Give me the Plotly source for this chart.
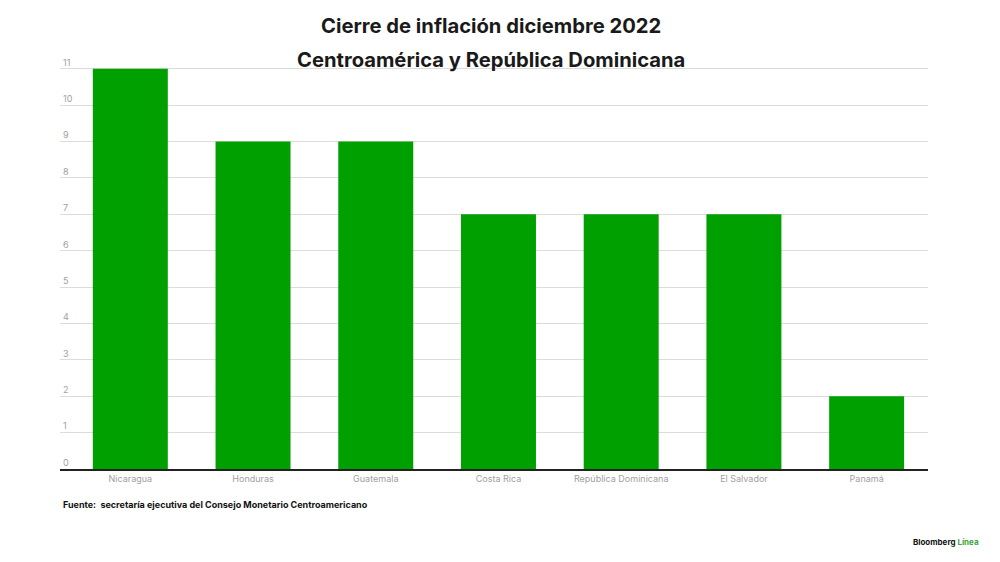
import plotly.graph_objects as go

paises = ['Nicaragua', 'Honduras', 'Guatemala', 'Costa Rica',
          'República Dominicana', 'El Salvador', 'Panamá']
inflacion = [11, 9, 9, 7, 7, 7, 2]
y_ticks = list(range(0, 12))

fig = go.Figure()
fig.add_trace(go.Bar(x=paises, y=inflacion, marker_color='#00a000',
                     marker_line_width=0, hoverinfo='x+y'))

fig.update_layout(
    width=1000, height=562,
    margin=dict(l=60, r=72, t=56, b=93),
    plot_bgcolor='white', paper_bgcolor='white',
    font=dict(family='Inter, Roboto, sans-serif'),
    bargap=0.389,
    showlegend=False,
)
# a little padding before the first bar, as in the original
fig.update_xaxes(range=[-0.573, 6.5], showline=True, linecolor='#222', linewidth=1.5,
                 tickfont=dict(size=9, color='#a0a0a0'), ticks='')
fig.update_yaxes(range=[0, 11.35], tickvals=y_ticks, showgrid=True,
                 gridcolor='#dcdcdc', gridwidth=1, zeroline=False,
                 ticklabelposition='inside top',
                 tickfont=dict(size=9, color='#a0a0a0'))

# two title lines, placed separately for the wider line spacing
titulo = ['Cierre de inflación diciembre 2022', 'Centroamérica y República Dominicana']
for linea, ypix in zip(titulo, [25, 60]):
    fig.add_annotation(text='<b>' + linea + '</b>', xref='paper', yref='paper',
                       x=(491 - 60) / 868, y=(469 - ypix) / 413,
                       xanchor='center', yanchor='middle', showarrow=False,
                       font=dict(size=20.2, color='#1a1a1a'))

fig.add_annotation(text='<b>Fuente:  secretaría ejecutiva del Consejo Monetario Centroamericano</b>',
                   xref='paper', yref='paper', x=(61 - 60) / 868, y=(469 - 504) / 413,
                   xanchor='left', yanchor='middle', showarrow=False,
                   font=dict(size=9, color='#111'))
fig.add_annotation(text='<b>Bloomberg <span style="color:#3aa63a">Línea</span></b>',
                   xref='paper', yref='paper', x=(981 - 60) / 868, y=(469 - 542) / 413,
                   xanchor='right', yanchor='middle', showarrow=False,
                   font=dict(size=8, color='#111'))

fig.write_html('out.html', config={'displayModeBar': False},
               post_script="document.body.style.margin='0';")
